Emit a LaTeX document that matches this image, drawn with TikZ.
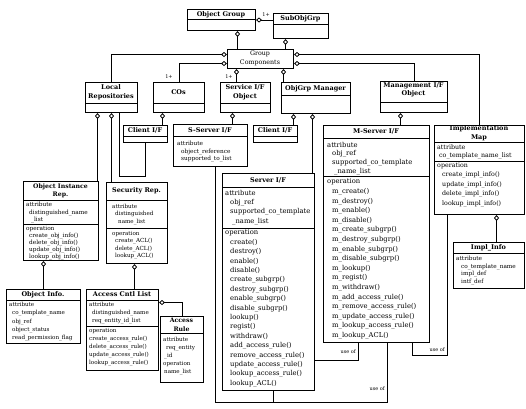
\documentclass[tikz,border=0pt]{standalone}
\usepackage{fontspec}
\setmainfont{DejaVu Serif}
\usetikzlibrary{arrows.meta}
\newcommand\myfs[2]{\fontsize{#1}{#2}\selectfont}
\newcommand\ind{\hspace*{5pt}}
\begin{document}
\begin{tikzpicture}[x=1pt,y=-1pt,
  cls/.style={draw, line width=1pt, inner sep=0pt, anchor=north west},
  ttl/.style={font=\bfseries\myfs{6.5}{8}, align=center, inner sep=0pt},
  tb/.style={align=left, inner sep=0pt, anchor=north west},
  dv/.style={line width=0.8pt},
  conn/.style={line width=0.8pt},
  agg/.style={conn, arrows={Diamond[open,length=6pt,width=5pt]-}},
  lbl/.style={font=\myfs{5}{6}, inner sep=0pt}]
\useasboundingbox (0,0) rectangle (526,408);

% ---------- classes ----------
\node[cls, minimum width=68pt, minimum height=21pt] (og) at (187,9) {};
\draw[dv] (og.west |- 0,19.5) -- (og.east |- 0,19.5);
\node[ttl] (ogt) at (221,14.3) {Object Group};

\node[cls, minimum width=55pt, minimum height=25pt] (sog) at (273,13) {};
\draw[dv] (sog.west |- 0,24.5) -- (sog.east |- 0,24.5);
\node[ttl] (sogt) at (300.5,18.8) {SubObjGrp};

\node[cls, minimum width=66pt, minimum height=19pt] (gc) at (227,49) {};
\node[align=center, inner sep=0pt, font=\myfs{6.3}{8.5}] (gct) at (260,58.5) {Group\\Components};

\node[cls, minimum width=52pt, minimum height=30pt] (lr) at (85,82) {};
\draw[dv] (lr.west |- 0,103) -- (lr.east |- 0,103);
\node[ttl, font=\bfseries\myfs{6.5}{9}] (lrt) at (111,92.5) {Local\\Repositories};

\node[cls, minimum width=51pt, minimum height=30pt] (cos) at (153,82) {};
\draw[dv] (cos.west |- 0,103) -- (cos.east |- 0,103);
\node[ttl] (cost) at (178.5,92.5) {COs};

\node[cls, minimum width=50pt, minimum height=30pt] (sio) at (220,82) {};
\draw[dv] (sio.west |- 0,103) -- (sio.east |- 0,103);
\node[ttl, font=\bfseries\myfs{6.5}{9}] (siot) at (245,92.5) {Service I/F\\Object};

\node[cls, minimum width=69pt, minimum height=31pt] (ogm) at (281,82) {};
\draw[dv] (ogm.west |- 0,95) -- (ogm.east |- 0,95);
\node[ttl] (ogmt) at (315.5,88.5) {ObjGrp Manager};

\node[cls, minimum width=67pt, minimum height=31pt] (mio) at (380,81) {};
\draw[dv] (mio.west |- 0,102) -- (mio.east |- 0,102);
\node[ttl, font=\bfseries\myfs{6.5}{8.5}] (miot) at (413.5,90) {Management I/F\\Object};

\node[cls, minimum width=44pt, minimum height=17pt] (cif1) at (123,125) {};
\draw[dv] (cif1.west |- 0,136.5) -- (cif1.east |- 0,136.5);
\node[ttl] (cif1t) at (145,130.8) {Client I/F};

\node[cls, minimum width=44pt, minimum height=17pt] (cif2) at (253,125) {};
\draw[dv] (cif2.west |- 0,136.5) -- (cif2.east |- 0,136.5);
\node[ttl] (cif2t) at (275,130.8) {Client I/F};

\node[cls, minimum width=74pt, minimum height=42pt] (ssif) at (173,124) {};
\draw[dv] (ssif.west |- 0,136.5) -- (ssif.east |- 0,136.5);
\node[ttl] (ssift) at (210,130.3) {S-Server I/F};
\node[tb, font=\myfs{5.8}{7.5}] (ssifa) at (177,141) {attribute\\\hspace*{4pt}object\_reference\\\hspace*{4pt}supported\_to\_list};

\node[cls, minimum width=106pt, minimum height=217pt] (msif) at (323,125) {};
\draw[dv] (msif.west |- 0,138) -- (msif.east |- 0,138);
\draw[dv] (msif.west |- 0,176) -- (msif.east |- 0,176);
\node[ttl] (msift) at (376,131.5) {M-Server I/F};
\node[tb, font=\myfs{6.8}{8.7}] (msifa) at (327,141.7) {attribute\\\ind obj\_ref\\\ind supported\_co\_template\\\hspace*{7pt}\_name\_list};
\node[tb, font=\myfs{6.8}{9.6}] (msifo) at (327,178.7) {operation\\\ind m\_create()\\\ind m\_destroy()\\\ind m\_enable()\\\ind m\_disable()\\\ind m\_create\_subgrp()\\\ind m\_destroy\_subgrp()\\\ind m\_enable\_subgrp()\\\ind m\_disable\_subgrp()\\\ind m\_lookup()\\\ind m\_regist()\\\ind m\_withdraw()\\\ind m\_add\_access\_rule()\\\ind m\_remove\_access\_rule()\\\ind m\_update\_access\_rule()\\\ind m\_lookup\_access\_rule()\\\ind m\_lookup\_ACL()};

\node[cls, minimum width=90pt, minimum height=89pt] (impl) at (434,125) {};
\draw[dv] (impl.west |- 0,142.5) -- (impl.east |- 0,142.5);
\draw[dv] (impl.west |- 0,161) -- (impl.east |- 0,161);
\node[ttl, font=\bfseries\myfs{6.5}{9}] (implt) at (479,133.5) {Implementation\\Map};
\node[tb, font=\myfs{6.3}{8.5}] (impla) at (437,144.3) {attribute\\\hspace*{2pt}co\_template\_name\_list};
\node[tb, font=\myfs{6.3}{9.4}] (implo) at (437,162.7) {operation\\\ind create\_impl\_info()\\\ind update\_impl\_info()\\\ind delete\_impl\_info()\\\ind lookup\_impl\_info()};

\node[cls, minimum width=71pt, minimum height=46pt] (ii) at (453,242) {};
\draw[dv] (ii.west |- 0,253) -- (ii.east |- 0,253);
\node[ttl] (iit) at (488.5,247.5) {Impl\_Info};
\node[tb, font=\myfs{5.8}{7.7}] (iia) at (456,255.8) {attribute\\\ind co\_template\_name\\\ind impl\_def\\\ind intf\_def};

\node[cls, minimum width=92pt, minimum height=217pt] (sif) at (222,173) {};
\draw[dv] (sif.west |- 0,187) -- (sif.east |- 0,187);
\draw[dv] (sif.west |- 0,228) -- (sif.east |- 0,228);
\node[ttl] (sift) at (268,180) {Server I/F};
\node[tb, font=\myfs{6.8}{9.4}] (sifa) at (225,189.7) {attribute\\\ind obj\_ref\\\ind supported\_co\_template\\\hspace*{7pt}\_name\_list};
\node[tb, font=\myfs{6.8}{9.4}] (sifo) at (225,229.7) {operation\\\ind create()\\\ind destroy()\\\ind enable()\\\ind disable()\\\ind create\_subgrp()\\\ind destroy\_subgrp()\\\ind enable\_subgrp()\\\ind disable\_subgrp()\\\ind lookup()\\\ind regist()\\\ind withdraw()\\\ind add\_access\_rule()\\\ind remove\_access\_rule()\\\ind update\_access\_rule()\\\ind lookup\_access\_rule()\\\ind lookup\_ACL()};

\node[cls, minimum width=75pt, minimum height=79pt] (oir) at (23,181) {};
\draw[dv] (oir.west |- 0,200) -- (oir.east |- 0,200);
\draw[dv] (oir.west |- 0,224) -- (oir.east |- 0,224);
\node[ttl, font=\bfseries\myfs{6.2}{8}] (oirt) at (60.5,190.5) {Object Instance\\Rep.};
\node[tb, font=\myfs{5.8}{7.5}] (oira) at (26,202) {attribute\\\hspace*{3pt}distinguished\_name\\\hspace*{5pt}\_list};
\node[tb, font=\myfs{5.8}{7}] (oiro) at (26,226) {operation\\\hspace*{3pt}create\_obj\_info()\\\hspace*{3pt}delete\_obj\_info()\\\hspace*{3pt}update\_obj\_info()\\\hspace*{3pt}lookup\_obj\_info()};

\node[cls, minimum width=61pt, minimum height=81pt] (sr) at (106,182) {};
\draw[dv] (sr.west |- 0,200) -- (sr.east |- 0,200);
\draw[dv] (sr.west |- 0,228) -- (sr.east |- 0,228);
\node[ttl] (srt) at (136.5,191) {Security Rep.};
\node[tb, font=\myfs{5.6}{7.5}] (sra) at (112,204) {attribute\\\hspace*{3pt}distinguished\\\hspace*{6pt}name\_list};
\node[tb, font=\myfs{5.6}{7.5}] (sro) at (112,231) {operation\\\hspace*{3pt}create\_ACL()\\\hspace*{3pt}delete\_ACL()\\\hspace*{3pt}lookup\_ACL()};

\node[cls, minimum width=74pt, minimum height=54pt] (oi) at (6,289) {};
\draw[dv] (oi.west |- 0,300) -- (oi.east |- 0,300);
\node[ttl] (oit) at (43,294.5) {Object Info.};
\node[tb, font=\myfs{5.6}{8.3}] (oia) at (9,302) {attribute\\\hspace*{3pt}co\_template\_name\\\hspace*{3pt}obj\_ref\\\hspace*{3pt}object\_status\\\hspace*{3pt}read\_permission\_flag};

\node[cls, minimum width=72pt, minimum height=81pt] (acl) at (86,289) {};
\draw[dv] (acl.west |- 0,300) -- (acl.east |- 0,300);
\draw[dv] (acl.west |- 0,326.5) -- (acl.east |- 0,326.5);
\node[ttl] (aclt) at (122,294.5) {Access Cntl List};
\node[tb, font=\myfs{5.6}{8}] (acla) at (89,302) {attribute\\\hspace*{3pt}distinguished\_name\\\hspace*{3pt}req\_entity\_id\_list};
\node[tb, font=\myfs{5.6}{8}] (aclo) at (89,328.5) {operation\\create\_access\_rule()\\delete\_access\_rule()\\update\_access\_rule()\\lookup\_access\_rule()};

\node[cls, minimum width=43pt, minimum height=66pt] (ar) at (160,316) {};
\draw[dv] (ar.west |- 0,333) -- (ar.east |- 0,333);
\node[ttl, font=\bfseries\myfs{6.2}{9}] (art) at (181.5,324.5) {Access\\Rule};
\node[tb, font=\myfs{5.6}{8}] (ara) at (163,337) {attribute\\\hspace*{3pt}req\_entity\\\hspace*{1pt}\_id\\operation\\\hspace*{1pt}name\_list};

% ---------- connectors ----------
\draw[agg] (og.east) -- (og.east -| sog.west);
\draw[agg] ([xshift=16pt]og.south) -- ([xshift=16pt]og.south |- gc.north);
\draw[agg] ([xshift=-15.5pt]sog.south) -- ([xshift=-15.5pt]sog.south |- gc.north);

\draw[agg] ([yshift=4.5pt]gc.west) -| (lr.north);
\draw[agg] ([yshift=-4.5pt]gc.west) -| (cos.north);
\draw[agg] ([xshift=-24pt]gc.south) -- ([xshift=-24pt]gc.south |- sio.north);
\draw[agg] ([xshift=23pt]gc.south) -- ([xshift=23pt]gc.south |- ogm.north);
\draw[agg] ([yshift=4.5pt]gc.east) -| (impl.north);
\draw[agg] ([yshift=-4.5pt]gc.east) -| (mio.north);

\draw[agg] ([xshift=-14pt]lr.south) -- ([xshift=-14pt]lr.south |- oir.north);
\draw[agg] (lr.south) -- (lr.south |- sr.north);
\draw[conn] (cif1.south) -- ++(0,33) -| ([xshift=8pt]lr.south);

\draw[agg] ([xshift=-16.5pt]cos.south) -- ([xshift=-16.5pt]cos.south |- cif1.north);
\draw[agg] ([xshift=-13pt]sio.south) -- ([xshift=-13pt]sio.south |- ssif.north);
\draw[agg] ([xshift=-22.5pt]ogm.south) -- ([xshift=-22.5pt]ogm.south |- cif2.north);
\draw[agg] ([xshift=-3.5pt]ogm.south) -- ([xshift=-3.5pt]ogm.south |- sif.north);
\draw[agg] ([xshift=-13.5pt]mio.south) -- ([xshift=-13.5pt]mio.south |- msif.north);
\draw[agg] ([xshift=17pt]impl.south) -- ([xshift=17pt]impl.south |- ii.north);

\draw[agg] ([xshift=-17.5pt]oir.south) -- ([xshift=-17.5pt]oir.south |- oi.north);
\draw[agg] ([xshift=-2.5pt]sr.south) -- ([xshift=-2.5pt]sr.south |- acl.north);
\draw[agg] ([yshift=27.5pt]acl.east) -| (ar.north);

\draw[conn] ([xshift=5pt]ssif.south) -- ([xshift=5pt]ssif.south |- 0,402) -| ([xshift=11pt]msif.south);
\draw[conn] ([xshift=5pt]sif.south) -- ([xshift=5pt]sif.south |- 0,402);
\draw[conn] ([yshift=-78.5pt]sif.east) -| ([xshift=-18pt]msif.south);
\draw[conn] ([xshift=36pt]msif.south) -- ++(0,12) -| ([xshift=-32pt]impl.south);

% ---------- labels ----------
\node[lbl] (l1) at (266,15) {1+};
\node[lbl] (l2) at (169,77) {1+};
\node[lbl] (l3) at (229,77) {1+};
\node[lbl, anchor=east] (u1) at (356,352) {use of};
\node[lbl, anchor=east] (u2) at (385,389) {use of};
\node[lbl, anchor=east] (u3) at (445,350) {use of};
\end{tikzpicture}
\end{document}
